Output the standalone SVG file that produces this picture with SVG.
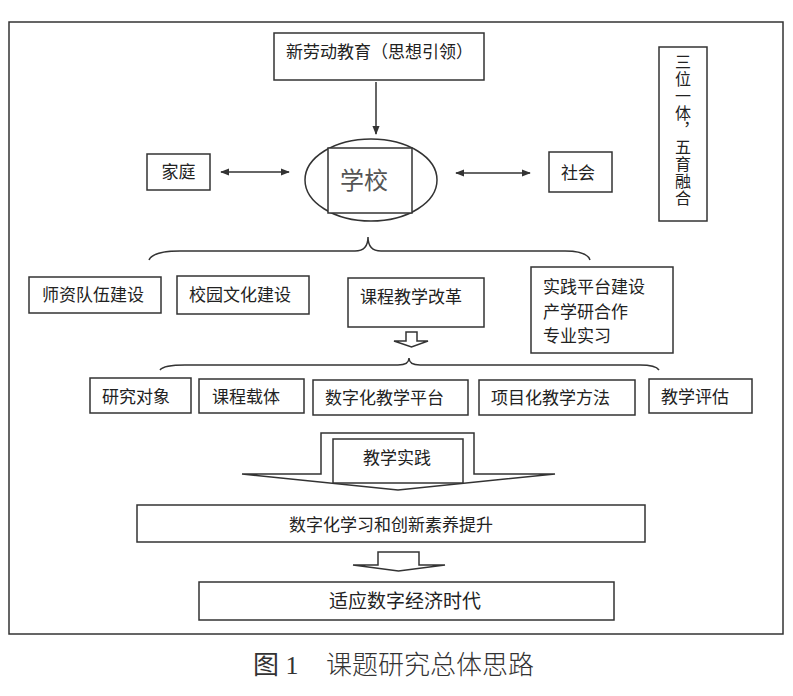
<svg xmlns="http://www.w3.org/2000/svg" width="793" height="696" viewBox="0 0 793 696">
<defs>
<style>
.box{fill:#fff;stroke:#333;stroke-width:1.5}
.ln{fill:none;stroke:#333;stroke-width:1.5}
.t{font-family:"Noto Sans CJK SC","Noto Sans",sans-serif;font-size:17px;fill:#222}
.c{text-anchor:middle}
</style>
<marker id="ah" viewBox="0 0 10 10" refX="9" refY="5" markerWidth="6" markerHeight="6" orient="auto-start-reverse">
<path d="M0,1 L10,5 L0,9 Z" fill="#333"/>
</marker>
</defs>
<rect width="793" height="696" fill="#fff"/>
<rect id="frame" x="9" y="22" width="774" height="612" class="ln"/>

<g id="connectors">
<line x1="376" y1="82" x2="376" y2="134" class="ln" marker-end="url(#ah)"/>
<line x1="221" y1="172" x2="289" y2="172" class="ln" marker-start="url(#ah)" marker-end="url(#ah)"/>
<line x1="456" y1="173" x2="530" y2="173" class="ln" marker-start="url(#ah)" marker-end="url(#ah)"/>
<path class="ln" d="M149,260 C152,253 163,251 180,251 L355,251 C364,251 368,246 368,237 C368,246 372,251 381,251 L565,251 C580,251 588,254 590,260"/>
<path class="ln" d="M160,370 C163,366 172,365 185,365 L398,365 C405,365 409,363 409,358 C409,363 413,365 420,365 L640,365 C650,365 657,367 659,370"/>
<path class="box" d="M406,332 L417,332 L417,341 L428,341 L411.5,347 L394,341 L406,341 Z"/>
<path class="box" d="M321,433 L474,433 L474,474 L555,474 L398,490 L242,474 L321,474 Z"/>
<path class="box" d="M378,552 L419,552 L419,565 L445,565 L398.5,571 L353,565 L378,565 Z"/>
</g>

<g id="n-xinlaodong">
<rect x="274" y="33" width="210" height="47" class="box"/>
<text x="286" y="58" class="t">新劳动教育（思想引领）</text>
</g>
<g id="n-school">
<ellipse cx="371" cy="180" rx="66" ry="41" class="box"/>
<rect x="328" y="148" width="84" height="65" class="box"/>
<text x="364" y="189" class="t c" style="font-size:24px;fill:#555">学校</text>
</g>
<g id="n-family">
<rect x="147" y="154" width="63" height="36" class="box"/>
<text x="178.5" y="178" class="t c">家庭</text>
</g>
<g id="n-society">
<rect x="549" y="152" width="63" height="40" class="box"/>
<text x="578" y="179" class="t c">社会</text>
</g>
<g id="n-sanwei">
<rect x="659" y="47" width="48" height="174" class="box"/>
<text x="683" y="54" class="t" style="font-size:16px;writing-mode:vertical-rl;letter-spacing:1px">三位一体，五育融合</text>
</g>
<g id="n-shizi">
<rect x="29" y="277" width="132" height="36" class="box"/>
<text x="42" y="301" class="t">师资队伍建设</text>
</g>
<g id="n-xiaoyuan">
<rect x="177" y="276" width="132" height="38" class="box"/>
<text x="189" y="301" class="t">校园文化建设</text>
</g>
<g id="n-kecheng">
<rect x="348" y="278" width="136" height="49" class="box"/>
<text x="360" y="303" class="t">课程教学改革</text>
</g>
<g id="n-shijian">
<rect x="531" y="267" width="142" height="86" class="box"/>
<text class="t"><tspan x="543" y="293">实践平台建设</tspan><tspan x="543" y="318">产学研合作</tspan><tspan x="543" y="342">专业实习</tspan></text>
</g>
<g id="n-yanjiu">
<rect x="90" y="378" width="101" height="35" class="box"/>
<text x="102" y="403" class="t">研究对象</text>
</g>
<g id="n-zaiti">
<rect x="199" y="379" width="105" height="34" class="box"/>
<text x="212" y="403" class="t">课程载体</text>
</g>
<g id="n-pingtai">
<rect x="313" y="380" width="155" height="35" class="box"/>
<text x="325" y="404" class="t">数字化教学平台</text>
</g>
<g id="n-xiangmu">
<rect x="479" y="380" width="156" height="35" class="box"/>
<text x="491" y="404" class="t">项目化教学方法</text>
</g>
<g id="n-pinggu">
<rect x="649" y="379" width="103" height="34" class="box"/>
<text x="661" y="403" class="t">教学评估</text>
</g>
<g id="n-jiaoxueshijian">
<rect x="333" y="439" width="130" height="44" class="box"/>
<text x="397" y="464" class="t c">教学实践</text>
</g>
<g id="n-tisheng">
<rect x="137" y="505" width="508" height="37" class="box"/>
<text x="391" y="531" class="t c">数字化学习和创新素养提升</text>
</g>
<g id="n-shiying">
<rect x="199" y="582" width="415" height="38" class="box"/>
<text x="405" y="608" class="t c" style="font-size:19px">适应数字经济时代</text>
</g>

<text x="253" y="674" style="font-family:'Liberation Serif','Noto Sans CJK SC',serif;font-size:26px;fill:#333">图 1</text>
<text x="326" y="674" style="font-family:'Noto Sans CJK SC',sans-serif;font-size:26px;font-weight:300;fill:#333">课题研究总体思路</text>
</svg>
